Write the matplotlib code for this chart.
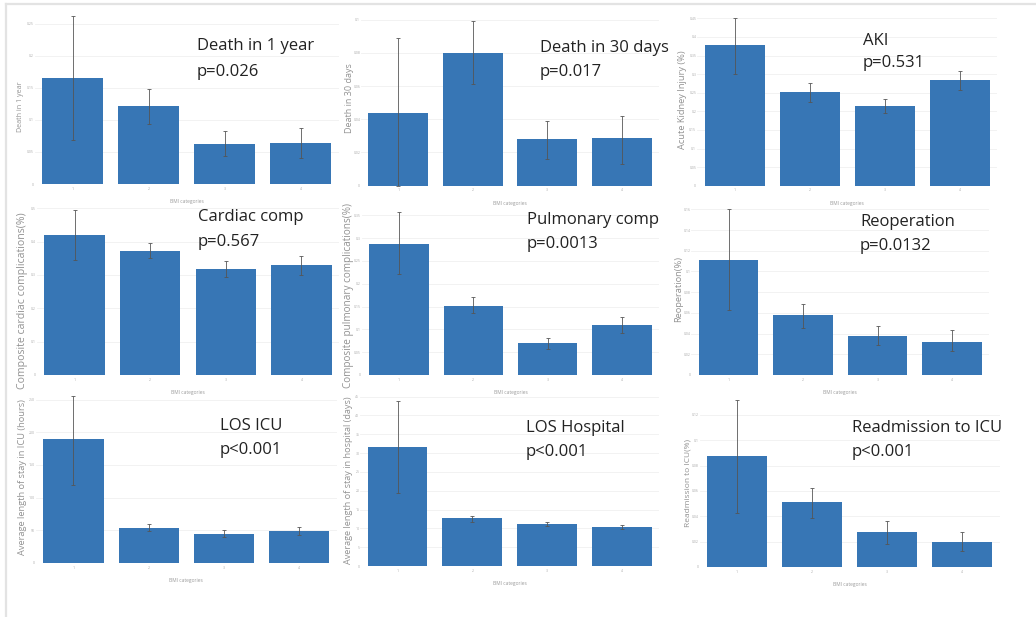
import matplotlib
matplotlib.use("Agg")
import matplotlib.pyplot as plt
from matplotlib.lines import Line2D
import numpy as np

# ---- data: four BMI categories per outcome ----
bmi_categories = ["1", "2", "3", "4"]

death_1y = [0.166, 0.121, 0.063, 0.064]
death_1y_hi = [0.262, 0.148, 0.082, 0.088]
death_1y_lo = [0.069, 0.093, 0.043, 0.041]

death_30d = [0.044, 0.080, 0.028, 0.029]
death_30d_hi = [0.089, 0.099, 0.039, 0.042]
death_30d_lo = [0.000, 0.061, 0.016, 0.013]

aki = [0.378, 0.251, 0.214, 0.284]
aki_hi = [0.452, 0.275, 0.234, 0.309]
aki_lo = [0.300, 0.226, 0.195, 0.257]

cardiac = [0.420, 0.372, 0.318, 0.330]
cardiac_hi = [0.495, 0.397, 0.342, 0.358]
cardiac_lo = [0.345, 0.350, 0.295, 0.300]

pulmonary = [0.288, 0.151, 0.071, 0.110]
pulmonary_hi = [0.357, 0.170, 0.082, 0.128]
pulmonary_lo = [0.222, 0.135, 0.058, 0.091]

reoperation = [0.111, 0.058, 0.038, 0.032]
reoperation_hi = [0.160, 0.069, 0.047, 0.043]
reoperation_lo = [0.063, 0.045, 0.029, 0.023]

los_icu = [189, 53.5, 45, 48.5]
los_icu_hi = [255, 59.5, 51, 54.5]
los_icu_lo = [120, 48.5, 39.5, 42.5]

los_hosp = [31.7, 12.7, 11.1, 10.3]
los_hosp_hi = [43.8, 13.3, 11.8, 10.9]
los_hosp_lo = [19.3, 11.8, 10.5, 9.8]

readmit_icu = [0.088, 0.051, 0.028, 0.020]
readmit_icu_hi = [0.132, 0.062, 0.036, 0.028]
readmit_icu_lo = [0.043, 0.039, 0.018, 0.013]

titles = ["Death in 1 year", "Death in 30 days", "AKI",
          "Cardiac comp", "Pulmonary comp", "Reoperation",
          "LOS ICU", "LOS Hospital", "Readmission to ICU"]
pvalues = ["p=0.026", "p=0.017", "p=0.531",
           "p=0.567", "p=0.0013", "p=0.0132",
           "p<0.001", "p<0.001", "p<0.001"]
ylabels = ["Death in 1 year", "Death in 30 days", "Acute Kidney Injury (%)",
           "Composite cardiac complications(%)",
           "Composite pulmonary complications(%)", "Reoperation(%)",
           "Average length of stay in ICU (hours)",
           "Average length of stay in hospital (days)",
           "Readmission to ICU(%)"]

# ---- layout (pixels): left, right, bottom, top, y-max, tick step ----
W, H = 1036, 617
panels = [
    (death_1y, death_1y_hi, death_1y_lo, (34.5, 338.5, 184, 11), 0.27, 0.05),
    (death_30d, death_30d_hi, death_30d_lo, (361, 659, 185.7, 13), 0.104, 0.02),
    (aki, aki_hi, aki_lo, (697, 997, 185.7, 14.6), 0.46, 0.05),
    (cardiac, cardiac_hi, cardiac_lo, (36.7, 339.3, 375, 205), 0.51, 0.1),
    (pulmonary, pulmonary_hi, pulmonary_lo, (361.8, 659.2, 375, 210.8), 0.36, 0.05),
    (reoperation, reoperation_hi, reoperation_lo, (691.3, 989.3, 375, 204.2), 0.165, 0.02),
    (los_icu, los_icu_hi, los_icu_lo, (35.9, 336.6, 563, 393), 260, 50),
    (los_hosp, los_hosp_hi, los_hosp_lo, (360.1, 659.4, 566, 392.8), 46, 5),
    (readmit_icu, readmit_icu_hi, readmit_icu_lo, (699.5, 999.5, 567, 396), 0.135, 0.02),
]
# y-axis label: centre in pixels and font size
ylabel_style = [(21, 107, 5.1), (350, 98, 6.5), (683, 100, 6.7),
                (23, 301, 7.6), (349, 295, 7.2), (679, 289, 6.7),
                (23, 477, 6.7), (349, 480, 6.6), (688, 483, 6.0)]
# annotation anchor (pixels): x of left edge, y of first line, y of second line
notes = [(197, 46, 72), (540, 48, 72), (863, 41, 63),
         (198, 217, 242), (527, 220, 244), (860, 222, 246),
         (220, 426, 450), (526, 428, 452), (852, 428, 452)]

plt.rcParams["font.family"] = ["Open Sans", "DejaVu Sans"]
fig = plt.figure(figsize=(W / 100, H / 100), dpi=100)
fig.patch.set_facecolor("white")

# light frame around the figure
fig.add_artist(Line2D([6 / W, 6 / W], [0, 1 - 4 / H], color="#e3e3e3", lw=1.6,
                      transform=fig.transFigure))
fig.add_artist(Line2D([6 / W, 1], [1 - 4 / H, 1 - 4 / H], color="#e3e3e3", lw=1.6,
                      transform=fig.transFigure))

bar_color = "#3776b5"
x = np.arange(len(bmi_categories))

for i, (vals, hi, lo, (l, r, b, t), ymax, step) in enumerate(panels):
    ax = fig.add_axes([l / W, 1 - b / H, (r - l) / W, (b - t) / H])
    vals = np.array(vals)
    err = np.vstack([vals - np.array(lo), np.array(hi) - vals])
    ax.bar(x, vals, width=0.8, color=bar_color, zorder=2)
    ax.errorbar(x, vals, yerr=err, fmt="none", ecolor="#555555", elinewidth=0.7,
                capsize=1.2, capthick=0.7, alpha=0.85, zorder=3)
    ax.set_xlim(-0.5, 3.5)
    ax.set_ylim(0, ymax)
    ticks = np.arange(0, ymax + 1e-9, step)
    ax.set_yticks(ticks)
    ax.set_yticklabels([f"{v:g}" for v in ticks], fontsize=2.5, color="#aaaaaa")
    ax.set_xticks(x)
    ax.set_xticklabels(bmi_categories, fontsize=2.5, color="#aaaaaa")
    ax.tick_params(axis="y", length=0, pad=0.5)
    ax.tick_params(axis="x", length=0, pad=2)
    ax.grid(axis="y", color="#f0f0f0", lw=0.6, zorder=0)
    for s in ax.spines.values():
        s.set_visible(False)

    # label anchor is its right edge; shift by half the glyph height
    lx, ly, lsize = ylabel_style[i]
    lx_edge = lx + 0.65 * lsize
    ax.set_ylabel(ylabels[i], fontsize=lsize, color="#929292")
    ax.yaxis.set_label_coords((lx_edge - l) / (r - l), (b - ly) / (b - t))
    ax.set_xlabel("BMI categories", fontsize=3.5, color="#9a9a9a", labelpad=6)
    ax.set_facecolor("none")

    nx, ny1, ny2 = notes[i]
    fig.text(nx / W, 1 - ny1 / H, titles[i], fontsize=12, color="#222222",
             ha="left", va="center")
    fig.text(nx / W, 1 - ny2 / H, pvalues[i], fontsize=12, color="#222222",
             ha="left", va="center")

fig.savefig("out.png", dpi=100, facecolor="white")
